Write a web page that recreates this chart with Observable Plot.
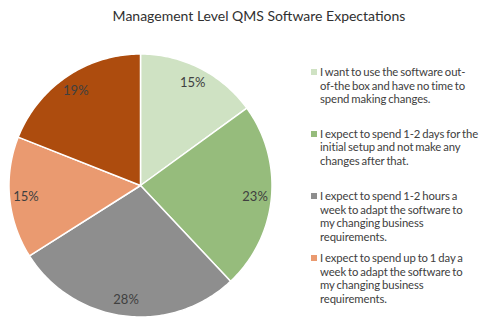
<!DOCTYPE html>
<html><head><meta charset="utf-8">
<script src="https://cdn.jsdelivr.net/npm/d3@7"></script>
<script src="https://cdn.jsdelivr.net/npm/@observablehq/plot@0.6"></script>
<style>
body{margin:0;background:#fff;font-family:Lato,"Open Sans",sans-serif;}
#wrap{position:relative;width:485px;height:332px;overflow:hidden;background:#fff}
#title{position:absolute;top:7px;left:0;width:518px;text-align:center;font-size:14px;color:#303030;white-space:nowrap}
#chart{position:absolute;left:0;top:0}
.entry{position:absolute;left:320px;font-size:11.3px;line-height:13.6px;color:#404040;white-space:nowrap;letter-spacing:-0.1px;word-spacing:-0.8px}
.mk{position:absolute;left:-9px;top:4px;width:6px;height:6px}
</style></head><body>
<div id="wrap">
<div id="title">Management Level QMS Software Expectations</div>
<div id="chart"></div>
<div id="legend"></div>
</div>
<script>
const categories = [
  "I want to use the software out-of-the box and have no time to spend making changes.",
  "I expect to spend 1-2 days for the initial setup and not make any changes after that.",
  "I expect to spend 1-2 hours a week to adapt the software to my changing business requirements.",
  "I expect to spend up to 1 day a week to adapt the software to my changing business requirements.",
  "Other"
];
const values = [15, 23, 28, 15, 19];
const labels = ["15%", "23%", "28%", "15%", "19%"];
const colors = ["#cfe2c3", "#96bc7c", "#8e8e8e", "#ea9a70", "#ad4c0e"];
const legendLines = [
  ["I want to use the software out-", "of-the box and have no time to", "spend making changes."],
  ["I expect to spend 1-2 days for the", "initial setup and not make any", "changes after that."],
  ["I expect to spend 1-2 hours a", "week to adapt the software to", "my changing business", "requirements."],
  ["I expect to spend up to 1 day a", "week to adapt the software to", "my changing business", "requirements."]
];
const legendTops = [65, 126.5, 189, 251];

// build slice outlines from cumulative values
const total = d3.sum(values);
const pts = [];
const lab = [];
let cum = 0;
values.forEach((v, i) => {
  const a0 = cum / total * 2 * Math.PI;
  cum += v;
  const a1 = cum / total * 2 * Math.PI;
  const n = Math.max(2, Math.ceil((a1 - a0) / (Math.PI / 180)));
  pts.push({cat: categories[i], x: 0, y: 0});
  for (let k = 0; k <= n; k++) {
    const a = a0 + (a1 - a0) * k / n;
    pts.push({cat: categories[i], x: Math.sin(a), y: Math.cos(a)});
  }
  pts.push({cat: categories[i], x: 0, y: 0});
  const m = (a0 + a1) / 2;
  lab.push({text: labels[i], x: 0.875 * Math.sin(m), y: 0.875 * Math.cos(m)});
});

const chart = Plot.plot({
  width: 290, height: 332,
  marginLeft: 8.5, marginRight: 18.5, marginTop: 53.5, marginBottom: 15.5,
  x: {domain: [-1, 1], axis: null},
  y: {domain: [-1, 1], axis: null},
  color: {domain: categories, range: colors},
  style: {background: "transparent", fontFamily: "Lato, sans-serif"},
  marks: [
    Plot.line(pts, {x: "x", y: "y", z: "cat", fill: "cat", stroke: "white", strokeWidth: 1.5, strokeLinejoin: "round"}),
    Plot.text(lab, {x: "x", y: "y", text: "text", fontSize: 13, fill: "#404040"})
  ]
});
document.getElementById("chart").appendChild(chart);

const legend = document.getElementById("legend");
legendLines.forEach((lines, i) => {
  const d = document.createElement("div");
  d.className = "entry";
  d.style.top = legendTops[i] + "px";
  const mk = document.createElement("div");
  mk.className = "mk";
  mk.style.background = colors[i];
  d.appendChild(mk);
  lines.forEach((t, j) => {
    if (j) d.appendChild(document.createElement("br"));
    d.appendChild(document.createTextNode(t));
  });
  legend.appendChild(d);
});
</script>
</body></html>
